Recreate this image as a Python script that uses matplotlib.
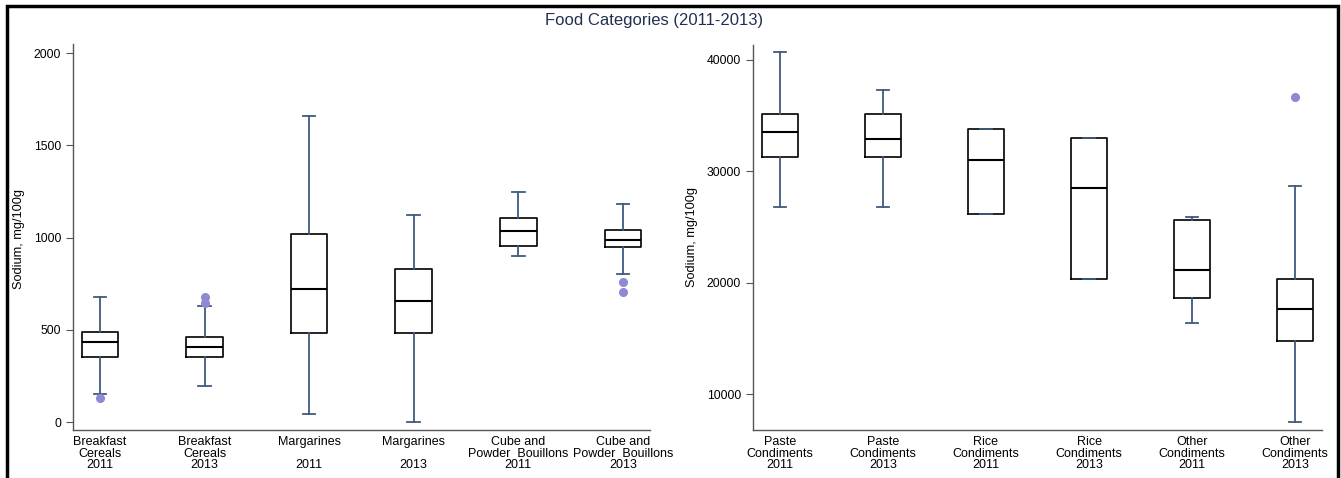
import matplotlib
matplotlib.use("Agg")
import matplotlib.pyplot as plt
from matplotlib.patches import Rectangle

plt.rcParams['font.family'] = ['Liberation Sans', 'DejaVu Sans']

# left panel: sodium mg/100g
left_labels = ["Breakfast\nCereals\n2011", "Breakfast\nCereals\n2013",
               "Margarines\n\n2011", "Margarines\n\n2013",
               "Cube and\nPowder  Bouillons\n2011", "Cube and\nPowder  Bouillons\n2013"]
left_whislo = [152, 195, 42, 0, 899, 800]
left_q1 = [352, 352, 482, 482, 955, 948]
left_med = [432, 406, 720, 654, 1038, 984]
left_q3 = [489, 462, 1018, 830, 1107, 1042]
left_whishi = [679, 627, 1661, 1121, 1246, 1183]
left_fliers = [[132], [643, 679], [], [], [], [757, 704]]

# right panel
right_labels = ["Paste\nCondiments\n2011", "Paste\nCondiments\n2013",
                "Rice\nCondiments\n2011", "Rice\nCondiments\n2013",
                "Other\nCondiments\n2011", "Other\nCondiments\n2013"]
right_whislo = [26830, 26830, 26176, 20340, 16360, 7500]
right_q1 = [31265, 31265, 26176, 20340, 18610, 14800]
right_med = [33510, 32880, 31023, 28540, 21150, 17650]
right_q3 = [35180, 35180, 33780, 33030, 25640, 20370]
right_whishi = [40691, 37280, 33780, 33030, 25930, 28690]
right_fliers = [[], [], [], [], [], [36650]]

WHISK = '#3f5b7e'
FLIER = '#8d89d2'
AXCOL = '#555555'


def make_stats(labels, lo, q1, med, q3, hi, fl):
    stats = []
    for i in range(len(labels)):
        stats.append(dict(label=labels[i], whislo=lo[i], q1=q1[i], med=med[i],
                          q3=q3[i], whishi=hi[i], fliers=fl[i]))
    return stats


def draw_panel(ax, stats, ylim, yticks):
    ax.bxp(stats, positions=range(1, len(stats) + 1), widths=0.35,
           capwidths=0.12, showfliers=True,
           boxprops=dict(color='black', linewidth=1.2),
           medianprops=dict(color='black', linewidth=1.5),
           whiskerprops=dict(color=WHISK, linewidth=1.3),
           capprops=dict(color=WHISK, linewidth=1.3),
           flierprops=dict(marker='o', markerfacecolor=FLIER, markeredgecolor=FLIER,
                           markersize=5.5))
    ax.set_xlim(0.74, len(stats) + 0.26)
    ax.set_ylim(*ylim)
    ax.set_yticks(yticks)
    for s in ['top', 'right']:
        ax.spines[s].set_visible(False)
    for s in ['left', 'bottom']:
        ax.spines[s].set_color(AXCOL)
        ax.spines[s].set_linewidth(1.0)
    ax.tick_params(axis='y', colors=AXCOL, labelcolor='black', labelsize=8.7,
                   length=5, width=0.8)
    ax.tick_params(axis='x', length=0, labelsize=9, pad=4.5)
    for t in ax.get_xticklabels():
        t.set_linespacing(0.95)
    ax.set_ylabel("Sodium, mg/100g", fontsize=9.2)


fig = plt.figure(figsize=(13.41, 4.78), dpi=100)
ax1 = fig.add_axes([0.0544, 0.1004, 0.4303, 0.8076])
ax2 = fig.add_axes([0.5615, 0.1004, 0.4243, 0.8055])

draw_panel(ax1, make_stats(left_labels, left_whislo, left_q1, left_med, left_q3,
                           left_whishi, left_fliers),
           (-43, 2049), [0, 500, 1000, 1500, 2000])
draw_panel(ax2, make_stats(right_labels, right_whislo, right_q1, right_med, right_q3,
                           right_whishi, right_fliers),
           (6795, 41346), [10000, 20000, 30000, 40000])
ax1.yaxis.set_label_coords(-0.083, 0.495)
ax2.yaxis.set_label_coords(-0.097, 0.5)

fig.text(0.4877, 0.958, "Food Categories (2011-2013)", ha='center', va='center',
         fontsize=12, color='#22304f')

# black frame around the figure
fig.patches.append(Rectangle((7 / 1341, -0.05), (1338 - 7) / 1341, 1.05 - 6 / 478,
                             transform=fig.transFigure, fill=False,
                             edgecolor='black', linewidth=2.5, zorder=10))

fig.savefig("out.png", dpi=100)
